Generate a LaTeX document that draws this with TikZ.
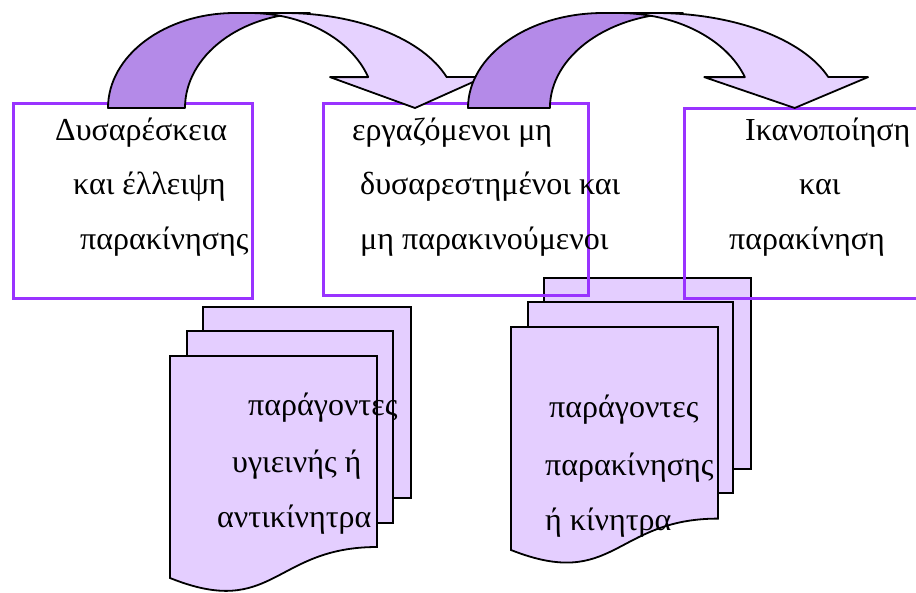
\documentclass[tikz,border=0pt]{standalone}
\usepackage{fontspec}
\setmainfont{Liberation Serif}
\definecolor{boxpurple}{RGB}{153,51,255}
\definecolor{darkband}{RGB}{180,138,232}
\definecolor{lightband}{RGB}{230,210,255}
\definecolor{pagefill}{RGB}{228,206,255}
\begin{document}
\begin{tikzpicture}[x=1pt,y=-1pt,
  boxframe/.style={draw=boxpurple, line width=3pt, rectangle, inner sep=0pt},
  pageshape/.style={draw=black, line width=1.8pt, fill=pagefill},
  arrowpart/.style={draw=black, line width=1.8pt, line join=round},
  lbl/.style={anchor=base west, inner sep=0pt, font=\fontsize{32}{38}\selectfont}]
\useasboundingbox (0,0) rectangle (916,592);
\fill[white] (0,0) rectangle (916,592);

% document stack 1
\draw[pageshape] (203,307) rectangle (411,498);
\draw[pageshape] (187,331) rectangle (393,523);
\draw[pageshape] (170,356) -- (377,356) -- (377,547)
  .. controls (273.5,547) and (273.5,619.6) .. (170,578) -- cycle;
% document stack 2
\draw[pageshape] (544,278) rectangle (751,469);
\draw[pageshape] (528,302) rectangle (733,493);
\draw[pageshape] (511,327) -- (718,327) -- (718,518.6)
  .. controls (614.5,518.6) and (614.5,591) .. (511,550) -- cycle;

% boxes
\node[boxframe, minimum width=239pt, minimum height=195pt] (box1) at (132.5,200.5) {};
\node[boxframe, minimum width=265pt, minimum height=192pt] (box2) at (455.5,199) {};
\node[boxframe, minimum width=240pt, minimum height=190pt] (box3) at (804,203) {};

% curved arrow 1
\begin{scope}[shift={(108,108)}]
\draw[arrowpart, fill=darkband] (0,0) arc[start angle=180,end angle=270,x radius=127,y radius=95]
  -- (202,-95) arc[start angle=270,end angle=180,x radius=125,y radius=95] -- cycle;
\draw[arrowpart, fill=lightband] (142,-95) -- (176,-95)
  arc[start angle=270,end angle=341,x radius=172,y radius=95]
  -- (376,-30.9) -- (307,0) -- (222,-30.9) -- (260.2,-30.9)
  arc[start angle=341,end angle=270,x radius=125,y radius=95] -- cycle;
\end{scope}
% curved arrow 2
\begin{scope}[shift={(468,108)},xscale=1.064]
\draw[arrowpart, fill=darkband] (0,0) arc[start angle=180,end angle=270,x radius=127,y radius=95]
  -- (202,-95) arc[start angle=270,end angle=180,x radius=125,y radius=95] -- cycle;
\draw[arrowpart, fill=lightband] (142,-95) -- (176,-95)
  arc[start angle=270,end angle=341,x radius=172,y radius=95]
  -- (376,-30.9) -- (307,0) -- (222,-30.9) -- (260.2,-30.9)
  arc[start angle=341,end angle=270,x radius=125,y radius=95] -- cycle;
\end{scope}

% texts box 1
\node[lbl] (t1a) at (55,140) {Δυσαρέσκεια};
\node[lbl] (t1b) at (73,194) {και έλλειψη};
\node[lbl] (t1c) at (80,249) {παρακίνησης};
% texts box 2
\node[lbl] (t2a) at (352,140) {εργαζόμενοι μη};
\node[lbl] (t2b) at (360,194) {δυσαρεστημένοι και};
\node[lbl] (t2c) at (360,249) {μη παρακινούμενοι};
% texts box 3
\node[lbl] (t3a) at (745,140) {Ικανοποίηση};
\node[lbl] (t3b) at (799,194) {και};
\node[lbl] (t3c) at (729,249) {παρακίνηση};
% texts doc 1
\node[lbl] (d1a) at (248,415) {παράγοντες};
\node[lbl] (d1b) at (232,472) {υγιεινής ή};
\node[lbl] (d1c) at (217,527) {αντικίνητρα};
% texts doc 2
\node[lbl] (d2a) at (549,417) {παράγοντες};
\node[lbl] (d2b) at (545,475) {παρακίνησης};
\node[lbl] (d2c) at (545,530) {ή κίνητρα};
\end{tikzpicture}
\end{document}
